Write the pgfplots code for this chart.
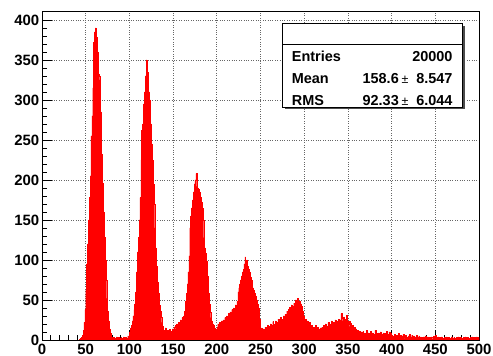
\documentclass[border=0pt]{standalone}
\usepackage{fontspec}
\setmainfont{Liberation Sans}
\usepackage{pgfplots}
\pgfplotsset{compat=1.18}
\usetikzlibrary{calc}
\begin{document}
\begin{tikzpicture}
\begin{axis}[
  set layers,
  scale only axis,
  width=437bp, height=328bp,
  xmin=0, xmax=500, ymin=0, ymax=410,
  xtick={0,50,...,500}, ytick={0,50,...,400},
  minor x tick num=4, minor y tick num=4,
  tick align=inside, tick pos=left,
  major tick length=10bp, minor tick length=5bp,
  tick style={/pgfplots/on layer=axis foreground, black, line width=0.8bp},
  axis line style={/pgfplots/on layer=axis foreground, black, line width=1bp},
  grid=major,
  major grid style={black!60, line width=0.7bp, dash pattern=on 0.9bp off 1.5bp},
  /pgf/number format/assume math mode=true,
  xticklabel={\pgfmathprintnumber{\tick}},
  yticklabel={\pgfmathprintnumber{\tick}},
  tick label style={font=\fontsize{15}{18}\selectfont\bfseries, inner sep=0pt},
  yticklabel style={xshift=-2.5bp},
  xticklabel style={yshift=-3.5bp},
]
\addplot[const plot mark left, fill=red, draw=red, line width=0.3bp] coordinates {
(0,0)(43,1)(44,2)(45,3)(46,6)(47,12)(48,22)(49,38)(50,62)(51,95)(52,120)(53,150)(54,178)(55,205)(56,255)(57,280)(58,315)(59,372)(60,385)(61,390)(62,378)(63,360)(64,332)(65,330)(66,325)(67,285)(68,232)(69,196)(70,160)(71,128)(72,100)(73,75)(74,52)(75,36)(76,24)(77,14)(78,8)(79,4)(80,3)(81,2)(82,3)(83,1)(84,2)(85,4)(86,1)(87,3)(88,2)(89,0)(90,3)(91,2)(92,1)(93,4)(94,2)(95,3)(96,1)(97,2)(98,5)(99,3)
(100,10)(101,15)(102,18)(103,24)(104,30)(105,38)(106,45)(107,60)(108,85)(109,110)(110,128)(111,150)(112,178)(113,225)(114,262)(115,270)(116,295)(117,310)(118,330)(119,350)(120,335)(121,318)(122,310)(123,300)(124,270)(125,245)(126,225)(127,195)(128,170)(129,140)(130,115)(131,92)(132,72)(133,58)(134,44)(135,36)(136,28)(137,22)(138,17)(139,12)(140,10)(141,15)(142,8)(143,12)(144,10)(145,9)(146,13)(147,10)(148,11)(149,14)
(150,12)(151,16)(152,18)(153,14)(154,20)(155,17)(156,22)(157,18)(158,25)(159,21)(160,28)(161,24)(162,30)(163,36)(164,48)(165,58)(166,70)(167,85)(168,105)(169,140)(170,155)(171,165)(172,175)(173,185)(174,195)(175,200)(176,208)(177,192)(178,190)(179,188)(180,185)(181,178)(182,172)(183,165)(184,150)(185,128)(186,115)(187,108)(188,98)(189,80)(190,58)(191,45)(192,35)(193,28)(194,24)(195,20)(196,18)(197,15)(198,14)(199,13)
(200,16)(201,20)(202,18)(203,22)(204,19)(205,24)(206,21)(207,25)(208,22)(209,28)(210,24)(211,30)(212,26)(213,33)(214,28)(215,35)(216,30)(217,38)(218,33)(219,40)(220,36)(221,44)(222,42)(223,48)(224,60)(225,65)(226,70)(227,75)(228,80)(229,85)(230,88)(231,95)(232,104)(233,98)(234,100)(235,92)(236,88)(237,85)(238,78)(239,75)(240,72)(241,65)(242,62)(243,58)(244,55)(245,50)(246,45)(247,40)(248,30)(249,26)
(250,12)(251,15)(252,10)(253,14)(254,11)(255,16)(256,12)(257,15)(258,18)(259,13)(260,17)(261,20)(262,14)(263,18)(264,23)(265,16)(266,20)(267,24)(268,18)(269,22)(270,26)(271,20)(272,24)(273,28)(274,22)(275,26)(276,30)(277,25)(278,32)(279,28)(280,36)(281,32)(282,38)(283,41)(284,36)(285,44)(286,42)(287,40)(288,46)(289,43)(290,50)(291,45)(292,52)(293,40)(294,48)(295,38)(296,45)(297,42)(298,36)(299,30)
(300,22)(301,26)(302,18)(303,24)(304,20)(305,15)(306,22)(307,14)(308,18)(309,12)(310,16)(311,10)(312,14)(313,18)(314,11)(315,16)(316,13)(317,10)(318,15)(319,12)(320,16)(321,14)(322,18)(323,13)(324,20)(325,15)(326,17)(327,22)(328,16)(329,20)(330,18)(331,24)(332,19)(333,22)(334,17)(335,25)(336,20)(337,23)(338,18)(339,26)(340,22)(341,25)(342,33)(343,27)(344,24)(345,29)(346,22)(347,26)(348,31)(349,24)
(350,20)(351,23)(352,17)(353,21)(354,15)(355,18)(356,12)(357,16)(358,10)(359,14)(360,9)(361,12)(362,8)(363,11)(364,7)(365,10)(366,6)(367,11)(368,7)(369,9)(370,6)(371,12)(372,7)(373,9)(374,5)(375,8)(376,11)(377,6)(378,9)(379,5)(380,7)(381,12)(382,6)(383,8)(384,4)(385,9)(386,6)(387,10)(388,5)(389,7)(390,9)(391,6)(392,4)(393,8)(394,11)(395,5)(396,7)(397,10)(398,6)(399,9)
(400,6)(401,3)(402,5)(403,7)(404,4)(405,6)(406,2)(407,5)(408,8)(409,4)(410,6)(411,3)(412,5)(413,7)(414,4)(415,2)(416,6)(417,4)(418,3)(419,5)(420,7)(421,3)(422,4)(423,6)(424,2)(425,5)(426,3)(427,4)(428,6)(429,2)(430,3)(431,5)(432,2)(433,4)(434,3)(435,1)(436,4)(437,2)(438,5)(439,3)(440,2)(441,4)(442,1)(443,3)(444,2)(445,4)(446,3)(447,1)(448,5)(449,2)
(450,6)(451,3)(452,2)(453,4)(454,1)(455,3)(456,2)(457,4)(458,2)(459,1)(460,3)(461,2)(462,4)(463,1)(464,2)(465,3)(466,1)(467,2)(468,4)(469,2)(470,1)(471,3)(472,2)(473,1)(474,3)(475,2)(476,4)(477,1)(478,2)(479,3)(480,2)(481,1)(482,3)(483,2)(484,4)(485,1)(486,2)(487,3)(488,2)(489,1)(490,3)(491,2)(492,4)(493,2)(494,1)(495,3)(496,2)(497,4)(498,2)(499,3)(500,3)
} \closedcycle;
\coordinate (nw) at (rel axis cs:0,1);
\coordinate (se) at (rel axis cs:1,0);
\end{axis}
\begin{scope}[shift={(nw)}, x=1bp, y=1bp, font=\fontsize{14.5}{17}\selectfont\bfseries]
  \fill[black!70] (243,-14) rectangle (423.2,-97.5);
  \draw[fill=white, line width=0.8bp] (240.3,-11.3) rectangle (420.7,-95);
  \draw[line width=0.8bp] (240.3,-32.3) -- (420.7,-32.3);
  \node[anchor=base west, inner sep=0pt] at (249.7,-49.2) {Entries};
  \node[anchor=base west, inner sep=0pt] at (249.7,-71.7) {Mean};
  \node[anchor=base west, inner sep=0pt] at (249.7,-93.2) {RMS};
  \node[anchor=base east, inner sep=0pt] at (410.7,-49.2) {20000};
  \node[anchor=base east, inner sep=0pt] at (357,-71.7) {158.6};
  \node[anchor=base, inner sep=0pt] at (363,-71.7) {\mdseries\fontsize{12.5}{15}\selectfont ±};
  \node[anchor=base east, inner sep=0pt] at (410.7,-71.7) {8.547};
  \node[anchor=base east, inner sep=0pt] at (357,-93.2) {92.33};
  \node[anchor=base, inner sep=0pt] at (363,-93.2) {\mdseries\fontsize{12.5}{15}\selectfont ±};
  \node[anchor=base east, inner sep=0pt] at (410.7,-93.2) {6.044};
\end{scope}
\pgfresetboundingbox
\path[use as bounding box] ($(nw)+(-42bp,12bp)$) rectangle ($(se)+(14bp,-16bp)$);
\end{tikzpicture}
\end{document}
